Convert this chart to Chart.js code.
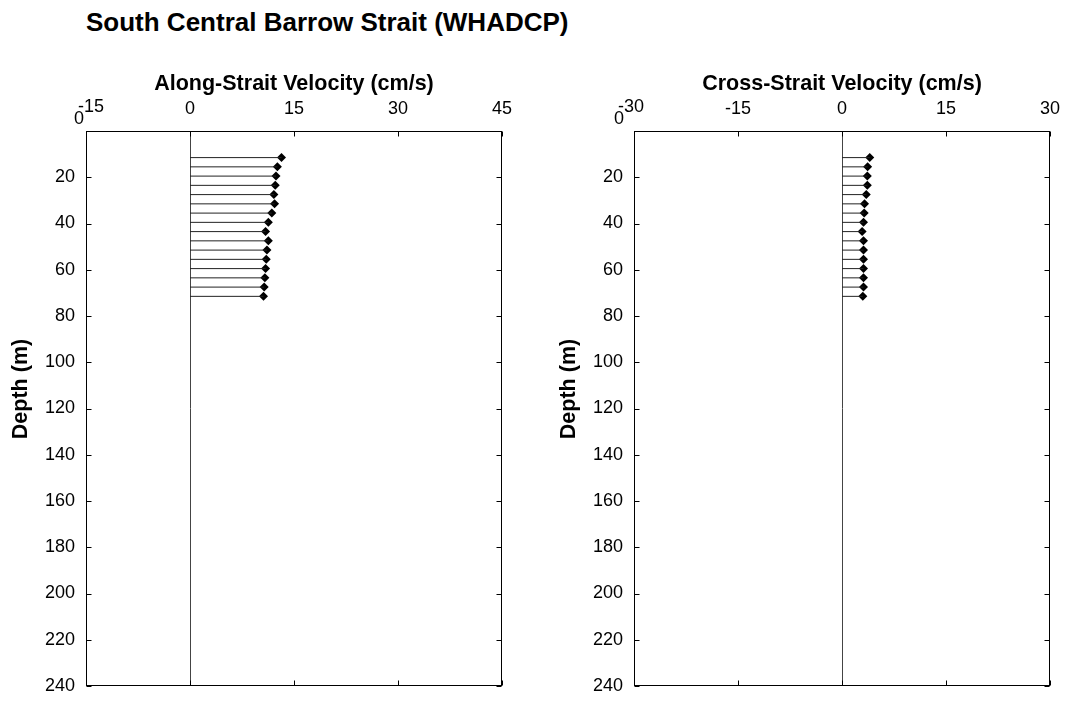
<!DOCTYPE html>
<html>
<head>
<meta charset="utf-8">
<script src="https://cdn.jsdelivr.net/npm/chart.js@4.4.1/dist/chart.umd.min.js"></script>
<style>
  body { margin: 0; background: #fff; width: 1070px; height: 702px; overflow: hidden; position: relative; }
  #baslik { position: absolute; left: 86px; top: 7px; line-height: 1; font: bold 26px "Liberation Sans", Arial, sans-serif; color: #000; white-space: nowrap; }
  .kutu { position: absolute; top: 0; width: 535px; height: 702px; }
</style>
</head>
<body>
<div id="baslik">South Central Barrow Strait (WHADCP)</div>
<div class="kutu" style="left:0"><canvas id="alongChart"></canvas></div>
<div class="kutu" style="left:535px"><canvas id="crossChart"></canvas></div>

<script>
// depth bins (m)
const depths = [11.5, 15.5, 19.5, 23.5, 27.5, 31.5, 35.5, 39.5, 43.5, 47.5, 51.5, 55.5, 59.5, 63.5, 67.5, 71.5];

// velocities (cm/s)
const alongVel = [13.2, 12.6, 12.4, 12.3, 12.1, 12.2, 11.8, 11.3, 10.9, 11.3, 11.1, 11.0, 10.9, 10.8, 10.7, 10.6];
const crossVel = [4.0, 3.7, 3.65, 3.65, 3.5, 3.25, 3.2, 3.1, 2.9, 3.1, 3.1, 3.1, 3.1, 3.1, 3.1, 3.0];

const depthTicks = [0, 20, 40, 60, 80, 100, 120, 140, 160, 180, 200, 220, 240];
const alongTicks = [-15, 0, 15, 30, 45];
const crossTicks = [-30, -15, 0, 15, 30];

const FONT = '"Liberation Sans", Arial, sans-serif';

/* =========================
   KUTU + ICE DONUK TIKLER
========================= */
const cercevePlugin = {
  id: 'cerceve',
  beforeDatasetsDraw(chart) {
    const { ctx, chartArea: a, scales: { x } } = chart;
    ctx.save();
    // sifir cizgisi
    const x0 = Math.round(x.getPixelForValue(0)) + 0.5;
    ctx.strokeStyle = '#444';
    ctx.lineWidth = 1;
    ctx.beginPath();
    ctx.moveTo(x0, a.top);
    ctx.lineTo(x0, a.bottom);
    ctx.stroke();
    ctx.restore();
  },
  afterDraw(chart, args, opts) {
    const { ctx, chartArea: a, scales: { x, y } } = chart;
    const L = Math.round(a.left) + 0.5, R = Math.round(a.right) - 0.5;
    const T = Math.round(a.top) + 0.5, B = Math.round(a.bottom) - 0.5;
    ctx.save();
    ctx.strokeStyle = '#000';
    ctx.lineWidth = 1;
    ctx.strokeRect(L, T, R - L, B - T);
    ctx.beginPath();
    x.ticks.forEach(t => {
      const px = Math.round(x.getPixelForValue(t.value)) + 0.5;
      ctx.moveTo(px, T); ctx.lineTo(px, T + 5);
      ctx.moveTo(px, B); ctx.lineTo(px, B - 5);
    });
    y.ticks.forEach(t => {
      const py = Math.round(y.getPixelForValue(t.value)) + 0.5;
      ctx.moveTo(L, py); ctx.lineTo(L + 5, py);
      ctx.moveTo(R, py); ctx.lineTo(R - 5, py);
    });
    ctx.stroke();

    ctx.fillStyle = '#000';
    ctx.font = '18px ' + FONT;
    ctx.textAlign = 'center';
    ctx.textBaseline = 'middle';
    // kose etiketleri (matlab gibi ust uste binmis)
    ctx.fillText('0', a.left + opts.zeroDx, a.top - 12);
    ctx.fillText(String(x.ticks[0].value), x.getPixelForValue(x.ticks[0].value) + opts.firstDx, a.top - 24);

    // derinlik eksen basligi
    ctx.font = 'bold 21.5px ' + FONT;
    ctx.translate(a.left - 65, a.top + 258);
    ctx.rotate(-Math.PI / 2);
    ctx.fillText('Depth (m)', 0, 0);
    ctx.restore();
  }
};

function createProfile(id, vel, xTicks, xTitle, left, right, zeroDx, firstDx) {
  const ctx = document.getElementById(id).getContext('2d');

  // her derinlik icin 0'dan hiza kadar yatay cubuk
  const stems = depths.map((d, i) => ({
    type: 'line',
    data: [{ x: 0, y: d }, { x: vel[i], y: d }],
    borderColor: '#222',
    borderWidth: 1,
    pointRadius: 0,
    showLine: true
  }));

  return new Chart(ctx, {
    type: 'scatter',
    data: {
      datasets: [
        ...stems,
        {
          data: depths.map((d, i) => ({ x: vel[i], y: d })),
          pointStyle: 'rectRot',
          pointRadius: 4.5,
          backgroundColor: '#000',
          borderColor: '#000',
          borderWidth: 0,
          showLine: false
        }
      ]
    },
    options: {
      responsive: false,
      animation: false,
      events: [],
      layout: { padding: { left: 0, right: 535 - right, top: 0, bottom: 16 } },
      plugins: {
        legend: { display: false },
        tooltip: { enabled: false },
        cerceve: { zeroDx, firstDx }
      },
      scales: {
        x: {
          type: 'linear',
          position: 'top',
          min: xTicks[0],
          max: xTicks[xTicks.length - 1],
          afterBuildTicks: s => { s.ticks = xTicks.map(v => ({ value: v })); },
          afterFit: s => { s.height = 131; s.paddingLeft = 0; s.paddingRight = 0; },
          grid: { display: false, drawTicks: false },
          border: { display: false },
          ticks: {
            color: '#000',
            padding: 11,
            font: { family: FONT, size: 18 },
            callback: v => (v === xTicks[0] ? '' : v)
          },
          title: {
            display: true,
            text: xTitle,
            color: '#000',
            padding: { top: 71, bottom: 0 },
            font: { family: FONT, size: 21.5, weight: 'bold' }
          }
        },
        y: {
          type: 'linear',
          reverse: true,
          min: 0,
          max: 240,
          afterBuildTicks: s => { s.ticks = depthTicks.map(v => ({ value: v })); },
          afterFit: s => { s.width = left; s.paddingTop = 0; s.paddingBottom = 0; },
          grid: { display: false, drawTicks: false },
          border: { display: false },
          ticks: {
            color: '#000',
            padding: 11,
            font: { family: FONT, size: 18 },
            callback: v => (v === 0 ? '' : v)
          },
          title: { display: false }
        }
      }
    },
    plugins: [cercevePlugin]
  });
}

// kanvas boyutlari
['alongChart', 'crossChart'].forEach(id => {
  const c = document.getElementById(id);
  c.width = 535; c.height = 702;
  c.style.width = '535px'; c.style.height = '702px';
});

createProfile('alongChart', alongVel, alongTicks, 'Along-Strait Velocity (cm/s)', 86, 502, -7, 5);
createProfile('crossChart', crossVel, crossTicks, 'Cross-Strait Velocity (cm/s)', 99, 515, -15, -3);
</script>
</body>
</html>
